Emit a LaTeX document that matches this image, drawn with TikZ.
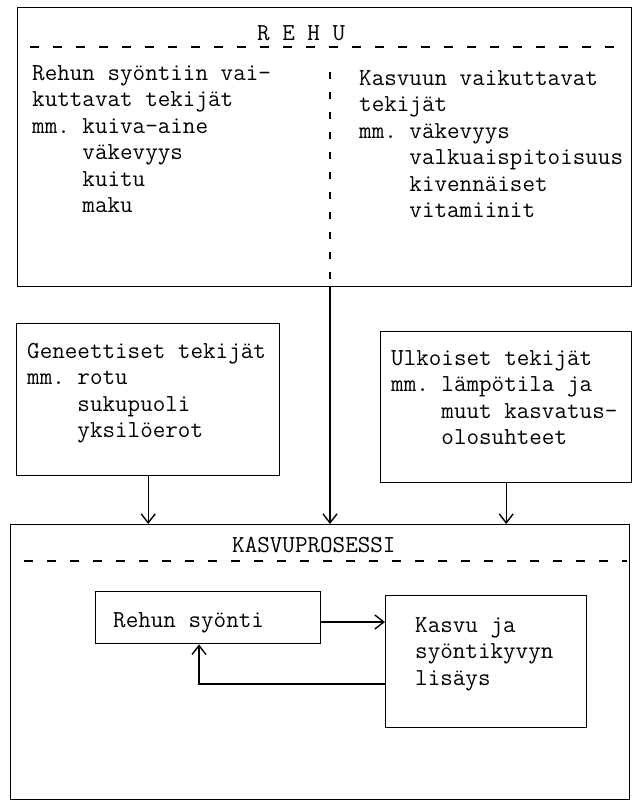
\documentclass[tikz,border=0pt]{standalone}
\usetikzlibrary{arrows.meta}
\newcommand\mytxt[1]{\parbox[t]{300pt}{\raggedright\ttfamily\frenchspacing\fontsize{24.4pt}{26.5pt}\selectfont #1}}
\newcommand\ind{\hphantom{mm. }}
\begin{document}
\begin{tikzpicture}[x=1pt,y=-1pt,
  box/.style={draw, line width=1.4pt, inner sep=0pt, anchor=north west},
  txt/.style={anchor=base west, inner sep=0pt},
  arr/.style={line width=1.4pt, -{Straight Barb[length=9pt,width=14pt,line width=1.4pt]}},
  sepline/.style={line width=1.4pt, dash pattern=on 9pt off 14pt},
  divline/.style={line width=1.4pt, dash pattern=on 7pt off 13pt}]
\useasboundingbox (0,0) rectangle (636,809);
\fill[white] (0,0) rectangle (636,809);

% REHU box
\node[box, minimum width=614pt, minimum height=279pt] (rehu) at (17,7) {};
\node[txt] (rehutitle) at (257,40) {\mytxt{R E H U}};
\draw[sepline] (30,47) -- (628,47);
\coordinate (dv) at (330,72);
\draw[divline] (dv) -- (dv |- rehu.south);
\node[txt] (rehuleft) at (32,80) {\mytxt{Rehun syöntiin vai-\\kuttavat tekijät\\mm. kuiva-aine\\\ind väkevyys\\\ind kuitu\\\ind maku}};
\node[txt] (rehuright) at (359,85) {\mytxt{Kasvuun vaikuttavat\\tekijät\\mm. väkevyys\\\ind valkuaispitoisuus\\\ind kivennäiset\\\ind vitamiinit}};

% Geneettiset
\node[box, minimum width=263pt, minimum height=152pt] (gen) at (16,323) {};
\node[txt] (gentxt) at (27,358) {\mytxt{Geneettiset tekijät\\mm. rotu\\\ind sukupuoli\\\ind yksilöerot}};

% Ulkoiset
\node[box, minimum width=251pt, minimum height=151pt] (ulk) at (380,331) {};
\node[txt] (ulktxt) at (391,365) {\mytxt{Ulkoiset tekijät\\mm. lämpötila ja\\\ind muut kasvatus-\\\ind olosuhteet}};

% KASVUPROSESSI
\node[box, minimum width=619pt, minimum height=275pt] (kasv) at (10,524) {};
\node[txt] (kasvtitle) at (232,552) {\mytxt{KASVUPROSESSI}};
\draw[sepline] (24,561) -- (627,561);

\node[box, minimum width=225pt, minimum height=52pt] (rs) at (95,591) {};
\node[txt] (rstxt) at (113,627) {\mytxt{Rehun syönti}};

\node[box, minimum width=201pt, minimum height=132pt] (kv) at (385,595) {};
\node[txt] (kvtxt) at (415,632) {\mytxt{Kasvu ja\\syöntikyvyn\\lisäys}};

% connectors
\draw[arr] (gen.south) -- (gen.south |- kasv.north);
\draw[arr] (dv |- rehu.south) -- (dv |- kasv.north);
\draw[arr] (ulk.south) -- (ulk.south |- kasv.north);
\coordinate (ra) at (320,622);
\draw[arr] (ra) -- (ra -| kv.west);
\coordinate (fb) at (199,684);
\draw[arr] (fb -| kv.west) -- (fb) -- (fb |- rs.south);
\end{tikzpicture}
\end{document}
